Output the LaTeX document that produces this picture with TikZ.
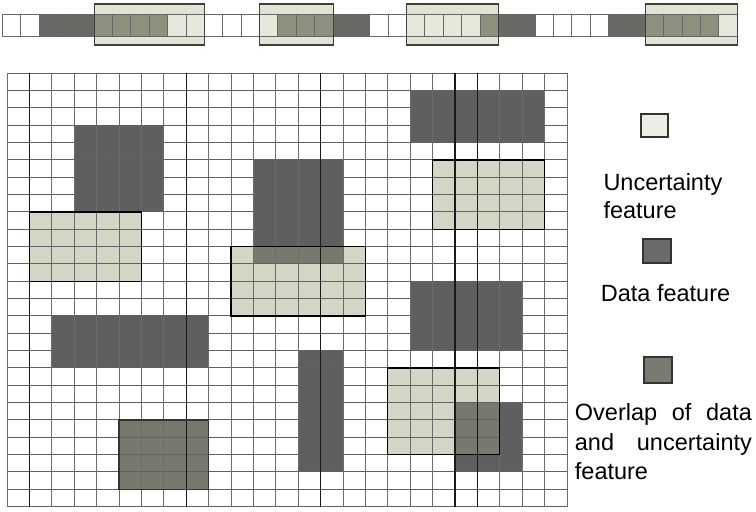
\documentclass[tikz,border=0pt]{standalone}
\usepackage{fontspec}
\setmainfont{Liberation Sans}
\begin{document}
\begin{tikzpicture}[x=1pt,y=1pt,
  legtext/.style={anchor=base west,inner sep=0pt,font=\fontsize{23.5}{28}\selectfont},
  legbox/.style={draw=black!80,line width=1.6pt}]
\definecolor{dataC}{HTML}{5F5F5F}
\definecolor{uncC}{HTML}{D3D5C5}
\definecolor{ovlC}{HTML}{77786E}
\definecolor{sdataC}{HTML}{6A6966}
\definecolor{sovlC}{HTML}{8E907E}
\definecolor{sboxC}{HTML}{E2E3D3}
\definecolor{suncC}{HTML}{E7E8DC}
\definecolor{lgUnc}{HTML}{EDEDE5}
\definecolor{lgData}{HTML}{6B6B6B}
\definecolor{lgOvl}{HTML}{7A7A72}
\fill[white] (0,0) rectangle (756,-512);
\useasboundingbox (0,0) rectangle (756,-512);

% ---------- top strip ----------
\begin{scope}[shift={(2.3,-14)},x=18.375pt,y=-22pt]
  \foreach \a/\b in {5/11,14/18,22/27,35/40}
    \fill[sboxC] (\a,-0.4545) rectangle (\b,1.409);
  \foreach \a/\b in {0/2,11/14,20/22,29/33}
    \fill[white] (\a,0) rectangle (\b,1);
  \foreach \a/\b in {2/5,18/20,27/29,33/35}
    \fill[sdataC] (\a,0) rectangle (\b,1);
  \foreach \a/\b in {5/9,15/18,26/27,35/39}
    \fill[sovlC] (\a,0) rectangle (\b,1);
  \foreach \a/\b in {9/11,14/15,22/26,39/40}
    \fill[suncC] (\a,0) rectangle (\b,1);
  \foreach \i in {0,...,40}
    \draw[black!60,line width=0.9pt] (\i,0) -- (\i,1);
  \draw[black!60,line width=0.9pt] (0,0) -- (40,0) (0,1) -- (40,1);
  \foreach \a/\b in {5/11,14/18,22/27,35/40}
    \draw[black!75,line width=1.1pt] (\a,-0.4545) rectangle (\b,1.409);
\end{scope}

% ---------- main grid ----------
\begin{scope}[shift={(7,-73.33)},x=22.4pt,y=-17.333pt]
  \foreach \a/\b/\c/\d in {3/3/7/8,11/5/15/11,18/1/24/4,18/12/23/16,2/14/9/17,13/16/15/23,20/19/23/23}
    \fill[dataC] (\a,\b) rectangle (\c,\d);
  \foreach \a/\b/\c/\d in {1/8/6/12,10/10/16/14,19/5/24/9,17/17/22/22}
    \fill[uncC] (\a,\b) rectangle (\c,\d);
  \foreach \a/\b/\c/\d in {11/10/15/11,20/19/22/22,5/20/9/24}
    \fill[ovlC] (\a,\b) rectangle (\c,\d);
  \foreach \i in {0,...,25}
    \draw[black!62,line width=1pt] (0,\i) -- (25,\i);
  \foreach \i in {0,...,25}
    \draw[black!58,line width=1pt] (\i,0) -- (\i,25);
  \foreach \i in {1,8,14,20,21}
    \draw[black!90,line width=1.1pt] (\i,0) -- (\i,25);
  \foreach \a/\b/\c/\d in {1/8/6/12,10/10/16/14,19/5/24/9,17/17/22/22}
    \draw[black,line width=1.1pt] (\a,\b) rectangle (\c,\d);
  \draw[black!80,line width=1.3pt] (5,20) rectangle (9,24);
\end{scope}

% ---------- legend ----------
\fill[lgUnc] (641,-114) rectangle (668,-137);
\draw[legbox] (641,-114) rectangle (668,-137);
\node[legtext] (t1) at (603.3,-190) {Uncertainty};
\node[legtext] (t2) at (603.3,-218) {feature};
\fill[lgData] (643,-239) rectangle (671,-263);
\draw[legbox] (643,-239) rectangle (671,-263);
\node[legtext] (t3) at (600.7,-301.7) {Data feature};
\fill[lgOvl] (644,-357) rectangle (672,-383);
\draw[legbox] (644,-357) rectangle (672,-383);
\node[legtext] (t4) at (574.7,-420) {\makebox[177pt][s]{Overlap of data}};
\node[legtext] (t5) at (574.7,-450) {\makebox[177pt][s]{and uncertainty}};
\node[legtext] (t6) at (574.7,-479.3) {feature};
\end{tikzpicture}
\end{document}
